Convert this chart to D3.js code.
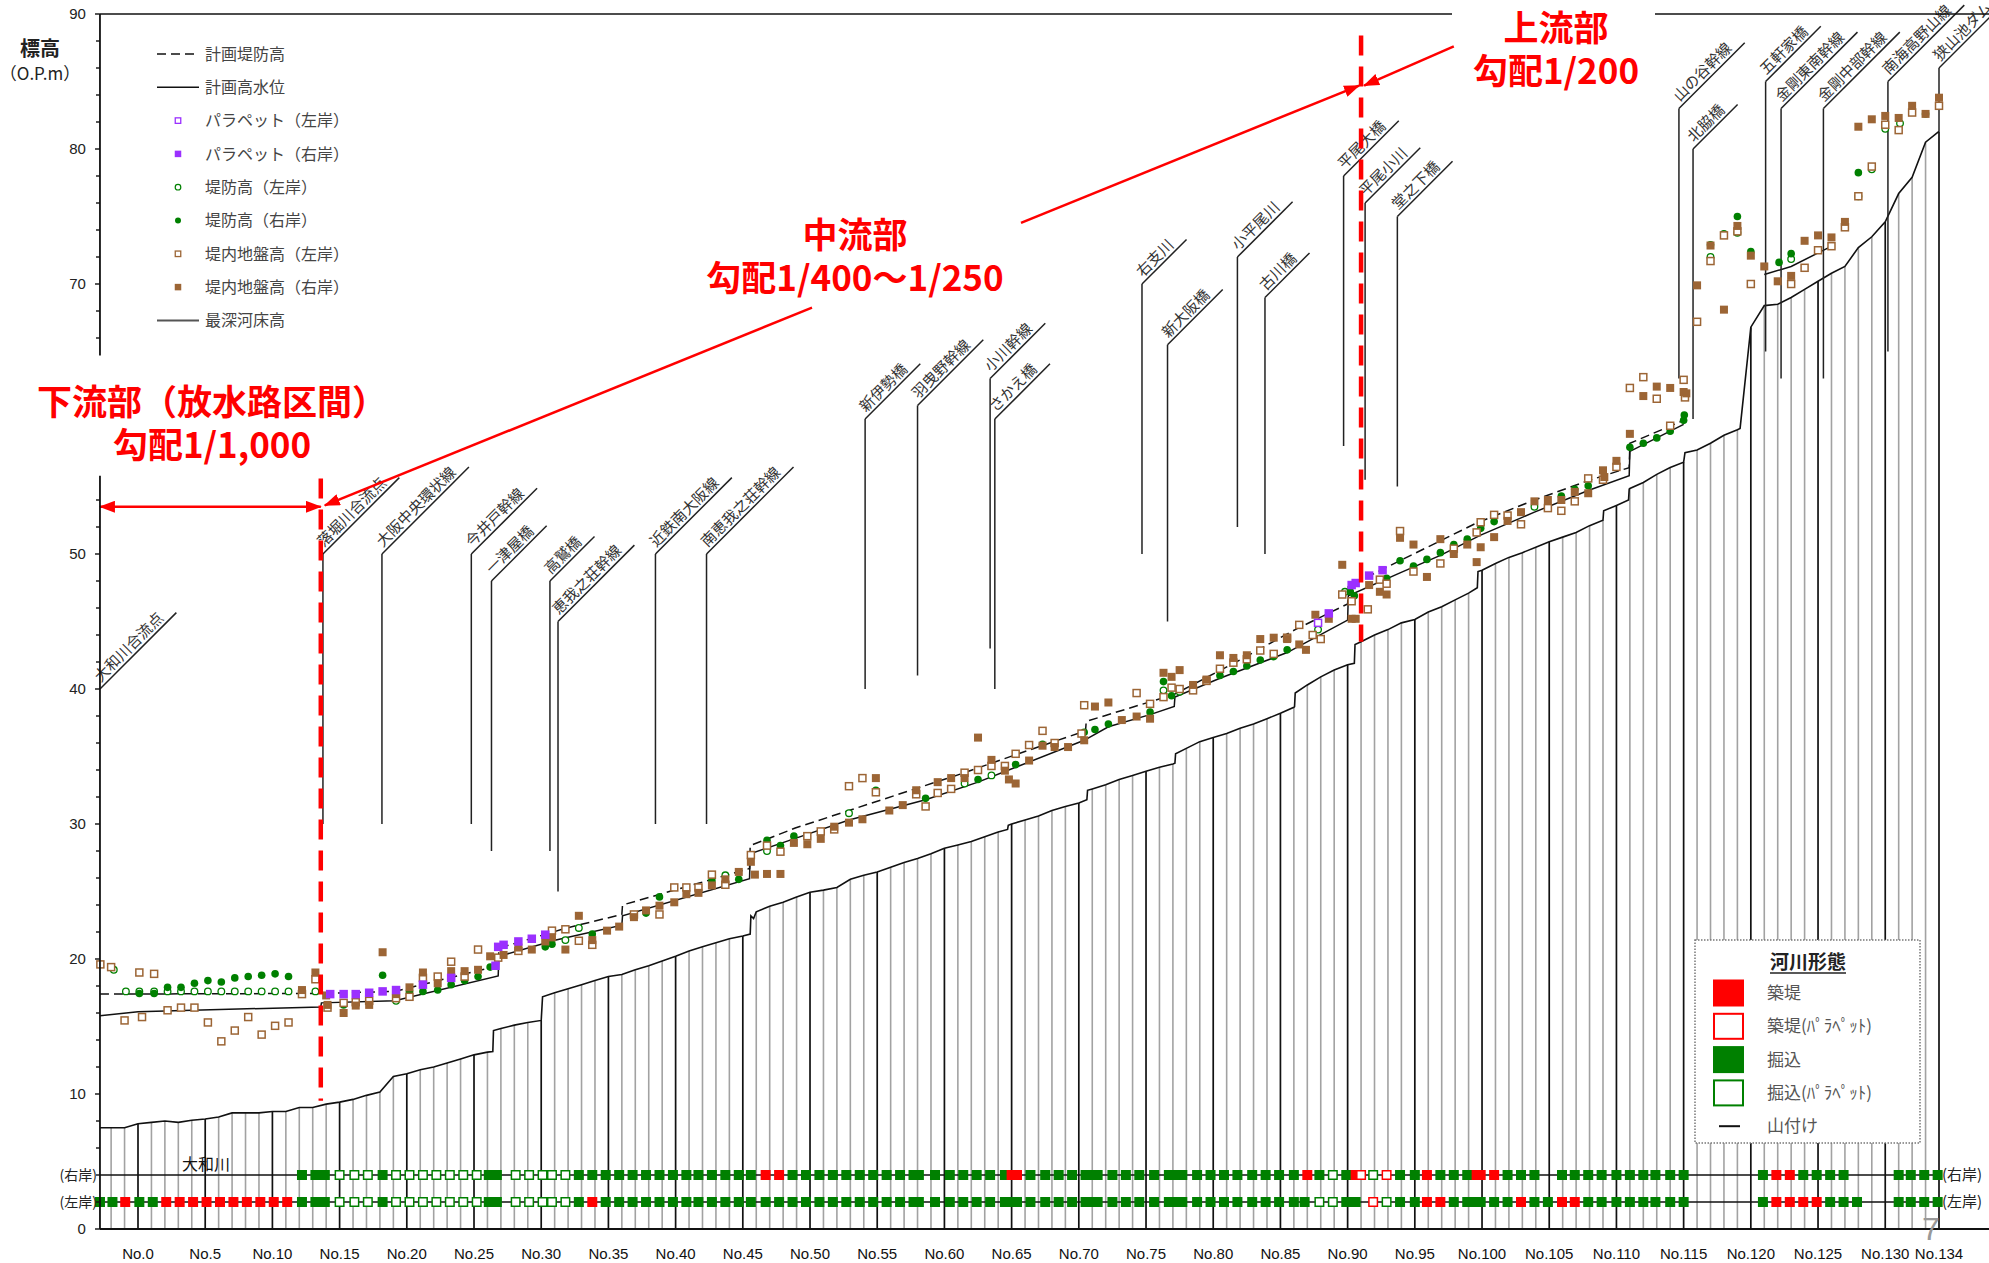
<!DOCTYPE html>
<html lang="ja">
<head>
<meta charset="utf-8">
<title>河川縦断図</title>
<script src="https://cdn.jsdelivr.net/npm/d3@7/dist/d3.min.js"></script>
<style>
  html, body { margin: 0; padding: 0; background: #fff; }
  svg { display: block; }
  text { font-family: "Noto Sans CJK JP", "Noto Sans", sans-serif; }
  text.num { font-family: "Liberation Sans", Arial, sans-serif; }
</style>
</head>
<body>
<svg id="chart" width="1989" height="1263"></svg>
<script>
// ---------------- data ----------------
// station numbers on the x axis (every 5 stations plus the last one)
const xTickStations = [0,5,10,15,20,25,30,35,40,45,50,55,60,65,70,75,80,85,90,95,100,105,110,115,120,125,130,134];
const yTickValues = [0,10,20,30,40,50,60,70,80,90];

// 最深河床高 [station, elevation O.P.m]
const riverbed = [[-2.83,7.5],[-2,7.5],[-1,7.5],[0,7.8],[1,7.9],[2,8.0],[3,7.9],[4,8.05],[5,8.15],[6,8.3],[7,8.6],[8,8.6],[9,8.6],[10,8.7],[11,8.7],[12,9.0],[13,9.0],[14,9.25],[15,9.4],[16,9.6],[17,9.9],[18,10.15],[19,11.3],[20,11.5],[21,11.8],[22,12.0],[23,12.3],[24,12.6],[25,12.9],[26,13.1],[26.4,13.15],[26.45,14.7],[27,14.85],[28,15.1],[29,15.3],[30,15.45],[30.1,17.2],[31,17.5],[32,17.8],[33,18.1],[34,18.4],[35,18.7],[36,18.85],[37,19.2],[38,19.5],[39,19.85],[40,20.2],[41,20.6],[42,20.9],[43,21.2],[44,21.5],[45,21.7],[45.55,21.85],[45.6,23.2],[45.8,23.0],[46,23.5],[47,23.9],[48,24.2],[49,24.6],[50,24.95],[51,25.1],[52,25.3],[53,25.9],[54,26.2],[55,26.45],[56,26.8],[57,27.15],[58,27.45],[59,27.8],[60,28.2],[61,28.45],[62,28.7],[63,29.05],[64,29.4],[64.7,29.6],[64.75,29.9],[65,30.0],[66,30.3],[67,30.6],[68,31.0],[69,31.3],[70,31.55],[70.6,31.8],[70.65,32.5],[71,32.6],[72,32.9],[73,33.3],[74,33.6],[75,33.9],[76,34.2],[77,34.45],[77.15,34.5],[77.2,35.2],[78,35.6],[79,36.1],[80,36.4],[81,36.7],[82,37.1],[83,37.4],[84,37.8],[85,38.2],[86,38.65],[86.05,38.7],[86.1,39.7],[87,40.3],[88,40.9],[89,41.4],[90,41.8],[90.5,41.9],[90.55,43.3],[91,43.5],[92,44.0],[93,44.4],[94,44.9],[95,45.15],[96,45.7],[97,46.1],[98,46.6],[99,47.1],[99.65,47.5],[99.7,48.7],[100,48.8],[101,49.3],[102,49.75],[103,50.1],[104,50.5],[105,50.9],[106,51.25],[107,51.6],[108,52.1],[109,52.5],[109.05,53.2],[110,53.6],[110.9,54.0],[110.95,54.8],[111,54.85],[112,55.3],[113,55.9],[114,56.4],[115,56.8],[115.1,57.5],[116,57.7],[117,58.2],[118,58.8],[119,59.2],[119.2,59.3],[120,66.8],[121,68.4],[122,68.5],[123,69.0],[124,69.6],[125,70.2],[126,70.8],[127,71.3],[128,72.7],[129,73.5],[130,74.6],[131,76.7],[132,77.9],[133,80.5],[134,81.3]];

// 計画堤防高
const planDike = [[-2.83,17.4],[13.6,17.45],[19.1,17.6],[26.8,19.5],[26.85,20.8],[31.9,22.3],[36.0,23.3],[36.05,24.0],[45.5,26.7],[45.55,28.4],[48.9,29.7],[52.9,31.0],[57.5,32.5],[61.5,33.8],[65.2,35.1],[70.5,36.9],[70.55,37.6],[77.1,39.6],[81.7,42.0],[86.1,44.4],[90.0,46.3],[90.05,47.6],[94.7,49.9],[99.6,52.3],[103.9,54.0],[107.8,55.4],[110.95,56.4],[111.0,58.2],[115.0,59.9]];

// 計画高水位
const planHWL = [[-2.83,15.8],[0,16.1],[13.6,16.45],[13.65,16.75],[19.1,16.9],[26.8,18.75],[26.85,20.2],[31.1,21.4],[36.0,22.5],[36.05,23.2],[45.5,25.95],[45.55,27.8],[48.8,28.9],[52.9,30.3],[58.6,31.8],[62.5,33.1],[65.3,34.2],[70.4,36.2],[72.2,37.2],[75.3,38.1],[77.1,38.7],[77.15,39.4],[80.5,40.8],[85.5,42.7],[90.0,45.1],[90.05,46.9],[93.9,48.6],[96.9,49.9],[99.9,51.4],[103.9,53.1],[107.9,54.7],[110.95,55.8],[111.0,57.6],[115.0,59.6]];
const planHWLUpper = [[121.0,70.7],[123.0,71.3],[125.0,72.3],[125.8,72.7]];

// パラペット
const parapetLeft = [[87.8,44.9]];
const parapetRight = [[14.3,17.4],[15.3,17.4],[16.2,17.4],[17.2,17.5],[18.2,17.6],[19.2,17.7],[21.2,18.1],[23.3,18.6],[26.6,19.5],[26.8,20.9],[27.2,21.05],[28.3,21.3],[29.3,21.5],[30.3,21.8],[88.6,45.6],[90.3,47.7],[90.6,47.85],[91.6,48.4],[92.6,48.8]];

// 堤防高
const dikeLeft = [[-1.8,19.2],[-0.9,17.6],[0.1,17.6],[1.2,17.6],[2.2,17.6],[3.2,17.6],[4.2,17.6],[5.2,17.6],[6.2,17.6],[7.2,17.6],[8.2,17.6],[9.2,17.6],[10.2,17.6],[11.2,17.6],[12.2,17.6],[13.2,17.6],[19.2,16.9],[31.8,21.4],[32.8,22.3],[43.7,26.2],[46.8,28.0],[52.9,30.8],[61.5,33.0],[63.5,33.6],[76.3,39.9],[77.5,39.8],[87.8,44.4],[89.8,47.2],[103.9,53.5],[117,72.0],[118,73.7],[119,73.8],[123,71.85],[128,76.5],[129,78.5],[130,81.5],[131.1,81.9]];
const dikeRight = [[0.1,17.45],[1.2,17.45],[2.2,17.9],[3.2,17.9],[4.2,18.2],[5.2,18.4],[6.2,18.3],[7.2,18.6],[8.2,18.7],[9.2,18.8],[10.2,18.9],[11.2,18.7],[15.3,16.6],[18.2,18.8],[20.2,17.6],[21.2,17.6],[22.3,17.7],[23.3,18.1],[24.3,18.4],[25.3,18.7],[26.2,19.4],[30.3,20.9],[30.8,21.1],[33.8,21.85],[37.8,23.4],[38.8,24.6],[42.7,25.8],[44.7,25.9],[46.8,28.8],[47.8,28.4],[48.8,29.1],[54.9,32.5],[58.6,31.9],[62.5,33.3],[65.3,34.4],[67.3,35.9],[70.4,36.8],[71.2,37.0],[72.2,37.4],[75.3,38.3],[76.3,40.55],[76.9,39.5],[80.5,41.0],[81.5,41.3],[82.5,41.7],[83.5,42.15],[84.5,42.4],[85.5,42.9],[90.2,47.2],[90.5,46.9],[92.9,48.2],[93.9,49.5],[94.9,49.1],[95.9,49.6],[96.9,50.1],[97.9,50.7],[98.9,51.1],[99.9,51.9],[100.9,52.4],[105.9,54.3],[106.9,54.8],[107.9,55.05],[111,57.9],[112,58.2],[113,58.6],[114,59.1],[115,59.9],[115.05,60.3],[117,72.9],[119,75.0],[120,72.4],[122.1,71.6],[123,72.25],[128,78.25],[133,82.6]];

// 堤内地盤高
const groundLeft = [[-2.8,19.6],[-2,19.4],[-1,15.45],[0.1,19.0],[0.3,15.7],[1.2,18.9],[2.2,16.2],[3.2,16.4],[4.2,16.4],[5.2,15.3],[6.2,13.9],[7.2,14.7],[8.2,15.7],[9.2,14.4],[10.2,15.05],[11.2,15.3],[12.2,17.4],[13.2,18.5],[14.1,16.4],[15.3,16.75],[16.2,16.8],[17.2,16.9],[19.2,17.1],[20.2,17.2],[21.2,18.6],[22.3,18.7],[23.3,19.8],[24.3,18.7],[25.3,20.7],[26.8,20.1],[28.3,20.6],[30.8,22.1],[31.8,22.2],[32.8,21.35],[33.8,21.05],[36.9,23.3],[38.8,23.3],[39.9,25.3],[40.8,25.3],[41.7,25.3],[42.7,26.25],[43.7,25.5],[45.6,27.7],[46.8,28.4],[47.8,27.95],[49.8,29.1],[50.8,29.45],[51.8,29.6],[52.9,32.8],[53.9,33.4],[54.9,32.35],[57.9,32.2],[58.6,31.3],[59.5,32.3],[60.5,32.6],[61.5,33.8],[62.5,34.0],[63.5,34.3],[64.5,34.3],[65.3,35.2],[66.3,35.85],[67.3,36.9],[68.2,36.0],[70.2,36.7],[70.4,38.8],[74.3,39.7],[75.3,38.9],[76.3,39.4],[76.9,40.1],[77.5,40.0],[78.5,39.9],[79.5,40.6],[80.5,41.5],[81.5,41.95],[82.5,42.2],[83.5,42.85],[84.5,42.6],[85.5,43.8],[86.4,44.75],[87.4,44.0],[88.0,43.7],[89.6,47.0],[90.3,46.5],[91.5,45.9],[92.4,48.1],[92.9,47.8],[93.9,51.7],[94.9,48.7],[96.9,49.3],[97.9,50.4],[99.6,51.6],[99.9,52.35],[100.9,52.9],[101.9,52.85],[102.9,52.2],[104.9,53.4],[105.9,53.2],[106.9,53.9],[107.9,55.6],[109,55.5],[110,56.45],[111,62.3],[112,63.1],[113,61.5],[114,59.5],[115,62.9],[115.1,61.6],[116,67.2],[117,71.7],[118,73.6],[119,73.9],[120,70.0],[123,70.0],[124,71.2],[125,72.5],[126,72.8],[127,74.2],[128,76.5],[129,78.7],[130,81.8],[131,81.4],[132,82.7],[134,83.2]];
const groundRight = [[12.2,17.7],[13.2,19.0],[14.0,17.3],[14.1,16.6],[15.3,16.0],[16.2,16.55],[17.2,16.6],[18.2,20.5],[19.2,17.4],[20.2,17.9],[21.2,19.0],[22.3,18.2],[23.3,19.1],[24.3,19.1],[25.3,19.2],[26.2,20.2],[27.2,20.3],[28.3,20.85],[29.3,20.7],[30.3,21.3],[30.8,21.6],[31.8,20.7],[32.8,23.2],[33.8,21.4],[34.9,22.1],[35.8,22.4],[36.9,23.1],[37.8,23.6],[38.8,23.95],[39.9,24.2],[40.8,24.8],[41.7,24.9],[42.7,25.45],[43.7,25.9],[44.7,26.45],[45.6,27.2],[45.9,26.25],[46.8,26.3],[47.8,26.3],[48.8,28.6],[49.8,28.5],[50.8,28.9],[51.8,29.8],[52.9,30.1],[53.9,30.35],[54.9,33.4],[55.9,31.0],[56.9,31.4],[57.9,32.5],[59.5,33.1],[60.5,33.4],[61.5,33.4],[62.5,36.4],[63.5,34.75],[64.5,33.95],[64.8,33.3],[65.3,33.0],[66.3,34.7],[67.3,35.8],[68.2,35.7],[69.2,35.7],[70.4,36.2],[71.2,38.7],[72.2,39.0],[73.2,37.7],[74.3,37.96],[75.3,37.8],[76.3,41.2],[76.9,40.9],[77.5,41.4],[78.5,40.3],[79.5,40.7],[80.5,42.5],[81.5,42.3],[82.5,42.5],[83.5,43.7],[84.5,43.8],[85.5,43.7],[86.4,43.3],[86.9,42.9],[87.6,45.5],[88.6,45.2],[89.6,49.2],[90.3,45.2],[90.6,45.2],[91.6,47.7],[92.4,47.2],[92.9,47.0],[93.9,51.2],[94.9,50.7],[95.9,48.3],[96.9,51.1],[97.9,50.0],[98.9,50.7],[99.6,49.4],[99.9,50.5],[100.9,51.25],[101.9,52.45],[102.9,53.1],[103.9,53.9],[104.9,54.0],[105.9,54.0],[106.9,54.6],[107.9,54.5],[109,56.2],[109.1,55.7],[110,56.9],[111,58.9],[112,61.7],[113,62.4],[114,62.3],[115,62.0],[115.2,61.9],[116,69.9],[117,72.85],[118,68.1],[119,74.3],[120,72.1],[121,71.3],[122,70.2],[123,70.6],[124,73.2],[125,73.6],[126,73.45],[127,74.6],[128,81.65],[129,82.2],[130,82.45],[131,82.3],[132,83.2],[133,82.6],[134,83.8]];

// 河川形態  F:築堤  FP:築堤(パラペット)  E:掘込  EP:掘込(パラペット)
const bankRight = [[12.2,"E"],[13.2,"E"],[13.55,"E"],[13.9,"E"],[15.0,"EP"],[16.1,"EP"],[17.1,"EP"],[18.2,"E"],[19.2,"EP"],[20.2,"EP"],[21.2,"EP"],[22.2,"EP"],[23.2,"EP"],[24.2,"EP"],[25.2,"EP"],[26.1,"E"],[26.7,"E"],[28.1,"EP"],[29.1,"EP"],[30.1,"EP"],[30.8,"EP"],[31.8,"EP"],[32.8,"E"],[33.8,"E"],[34.8,"E"],[35.8,"E"],[36.8,"E"],[37.8,"E"],[38.8,"E"],[39.8,"E"],[40.8,"E"],[41.7,"E"],[42.7,"E"],[43.7,"E"],[44.7,"E"],[45.6,"E"],[46.7,"F"],[47.7,"F"],[48.7,"E"],[49.7,"E"],[50.7,"E"],[51.7,"E"],[52.7,"E"],[53.7,"E"],[54.7,"E"],[55.7,"E"],[56.7,"E"],[57.7,"E"],[58.1,"E"],[59.3,"E"],[60.4,"E"],[61.4,"E"],[62.4,"E"],[63.4,"E"],[64.5,"E"],[65.0,"F"],[65.4,"F"],[66.4,"E"],[67.5,"E"],[68.5,"E"],[69.5,"E"],[70.5,"E"],[70.9,"E"],[71.4,"E"],[72.5,"E"],[73.5,"E"],[74.5,"E"],[75.6,"E"],[76.7,"E"],[77.2,"E"],[77.7,"E"],[78.8,"E"],[79.8,"E"],[80.8,"E"],[81.8,"E"],[82.9,"E"],[83.9,"E"],[84.9,"E"],[86.0,"E"],[87.0,"F"],[87.9,"E"],[88.9,"EP"],[89.9,"E"],[90.6,"F"],[91.0,"FP"],[91.9,"EP"],[92.9,"FP"],[93.9,"E"],[95.0,"E"],[95.9,"F"],[96.9,"E"],[97.9,"E"],[98.9,"E"],[99.6,"F"],[99.9,"F"],[100.9,"F"],[101.9,"E"],[102.9,"E"],[103.9,"E"],[105.95,"E"],[106.9,"E"],[107.9,"E"],[108.9,"E"],[110.0,"E"],[111.0,"E"],[112.0,"E"],[112.9,"E"],[114.0,"E"],[115.0,"E"],[120.9,"E"],[121.9,"F"],[122.9,"F"],[123.9,"E"],[124.9,"E"],[125.9,"E"],[126.9,"E"],[131.0,"E"],[131.9,"E"],[132.9,"E"],[133.9,"E"]];
const bankLeft = [[-2.83,"E"],[-1.9,"E"],[-0.95,"F"],[0.1,"E"],[1.1,"E"],[2.1,"F"],[3.1,"F"],[4.1,"F"],[5.1,"F"],[6.1,"F"],[7.1,"F"],[8.1,"F"],[9.1,"F"],[10.1,"F"],[11.1,"F"],[12.2,"E"],[13.2,"E"],[13.55,"E"],[13.9,"E"],[15.0,"EP"],[16.1,"EP"],[17.1,"EP"],[18.2,"E"],[19.2,"EP"],[20.2,"EP"],[21.2,"EP"],[22.2,"EP"],[23.2,"EP"],[24.2,"EP"],[25.2,"EP"],[26.1,"E"],[26.7,"E"],[28.1,"EP"],[29.1,"EP"],[30.1,"EP"],[30.8,"EP"],[31.8,"EP"],[32.8,"E"],[33.8,"F"],[34.8,"E"],[35.8,"E"],[36.8,"E"],[37.8,"E"],[38.8,"E"],[39.8,"E"],[40.8,"E"],[41.7,"E"],[42.7,"E"],[43.7,"E"],[44.7,"E"],[45.6,"E"],[46.7,"E"],[47.7,"E"],[48.7,"E"],[49.7,"E"],[50.7,"E"],[51.7,"E"],[52.7,"E"],[53.7,"E"],[54.7,"E"],[55.7,"E"],[56.7,"E"],[57.7,"E"],[58.1,"E"],[59.3,"E"],[60.4,"E"],[61.4,"E"],[62.4,"E"],[63.4,"E"],[64.5,"E"],[65.0,"E"],[65.4,"E"],[66.4,"E"],[67.5,"E"],[68.5,"E"],[69.5,"E"],[70.5,"E"],[70.9,"E"],[71.4,"E"],[72.5,"E"],[73.5,"E"],[74.5,"E"],[75.6,"E"],[76.7,"E"],[77.2,"E"],[77.7,"E"],[78.8,"E"],[79.8,"E"],[80.8,"E"],[81.8,"E"],[82.9,"E"],[83.9,"E"],[84.9,"E"],[86.0,"E"],[86.8,"E"],[87.9,"EP"],[88.9,"EP"],[89.9,"E"],[90.6,"E"],[91.9,"FP"],[92.9,"EP"],[93.9,"E"],[95.0,"E"],[95.9,"F"],[96.9,"F"],[97.9,"E"],[98.9,"E"],[99.6,"E"],[99.9,"E"],[100.9,"E"],[101.9,"E"],[102.9,"F"],[103.9,"E"],[104.9,"E"],[105.95,"F"],[106.9,"F"],[107.9,"E"],[108.9,"E"],[110.0,"E"],[111.0,"E"],[112.0,"E"],[112.9,"E"],[114.0,"E"],[115.0,"E"],[120.9,"E"],[121.9,"F"],[122.9,"F"],[123.9,"F"],[124.9,"F"],[125.9,"E"],[126.9,"E"],[127.9,"E"],[131.0,"E"],[131.9,"E"],[132.9,"E"],[133.9,"E"]];

// 横断構造物・合流点  (station, elevation of the label leader top / bottom)
const landmarks = [
  {name:"大和川合流点", st:-2.83, top:40, bottom:40},
  {name:"落堀川合流点", st:13.76, top:50, bottom:30},
  {name:"大阪中央環状線", st:18.15, top:50, bottom:30},
  {name:"今井戸幹線", st:24.8, top:50, bottom:30},
  {name:"一津屋橋", st:26.3, top:48, bottom:28},
  {name:"高鷲橋", st:30.65, top:48, bottom:28},
  {name:"恵我之荘幹線", st:31.25, top:45, bottom:25},
  {name:"近鉄南大阪線", st:38.5, top:50, bottom:30},
  {name:"南恵我之荘幹線", st:42.3, top:50, bottom:30},
  {name:"新伊勢橋", st:54.1, top:60, bottom:40},
  {name:"羽曳野幹線", st:58.0, top:61, bottom:41},
  {name:"小川幹線", st:63.4, top:63, bottom:43},
  {name:"さかえ橋", st:63.75, top:60, bottom:40},
  {name:"右支川", st:74.7, top:70, bottom:50},
  {name:"新大阪橋", st:76.6, top:65.5, bottom:45},
  {name:"小平尾川", st:81.8, top:72, bottom:52},
  {name:"古川橋", st:83.85, top:69, bottom:50},
  {name:"平尾大橋", st:89.7, top:78, bottom:58},
  {name:"平尾小川", st:91.3, top:76, bottom:55.5},
  {name:"堂之下橋", st:93.7, top:75, bottom:55},
  {name:"山の谷幹線", st:114.65, top:83, bottom:63},
  {name:"北脇橋", st:115.7, top:80, bottom:60},
  {name:"五軒家橋", st:121.1, top:85, bottom:65},
  {name:"金剛東南幹線", st:122.25, top:83, bottom:63},
  {name:"金剛中部幹線", st:125.4, top:83, bottom:63},
  {name:"南海高野山線", st:130.2, top:85, bottom:65},
  {name:"狭山池ダム", st:134.0, top:86, bottom:81.3}
];

// reach boundaries (station) used for the gradient annotations
const reachBoundaries = [13.6, 91.0];

// ---------------- drawing ----------------
const svg = d3.select("#chart");
const x = d3.scaleLinear().domain([0, 134]).range([138, 1939]);
const y = d3.scaleLinear().domain([0, 90]).range([1229, 14]);
const xFirst = -2.83;
const left = x(xFirst);
const right = x(134);
const col = { brown: "#9C6535", green: "#008000", purple: "#9B30FF", red: "#FF0000", grid: "#a2a2a2", ink: "#111" };

const defs = svg.append("defs");
defs.append("marker").attr("id", "arrowHead")
  .attr("viewBox", "0 0 16 12").attr("refX", 15).attr("refY", 6)
  .attr("markerWidth", 16).attr("markerHeight", 12)
  .attr("markerUnits", "userSpaceOnUse").attr("orient", "auto-start-reverse")
  .append("path").attr("d", "M0,0L16,6L0,12Z").attr("fill", col.red);

// station verticals below the river bed
const gSt = svg.append("g");
riverbed.filter(d => Number.isInteger(d[0])).forEach(d => {
  const major = d[0] % 5 === 0 || d[0] === 134;
  gSt.append("line")
    .attr("x1", x(d[0])).attr("x2", x(d[0]))
    .attr("y1", y(d[1])).attr("y2", y(0))
    .attr("stroke", major ? col.ink : col.grid)
    .attr("stroke-width", major ? 1.7 : 1.6);
});

// river form rows (right bank on the 4 m line, left bank on the 2 m line)
const gBank = svg.append("g");
[[4, bankRight], [2, bankLeft]].forEach(([lev, rows]) => {
  const yy = y(lev);
  gBank.append("line").attr("x1", left).attr("x2", right).attr("y1", yy).attr("y2", yy)
    .attr("stroke", col.ink).attr("stroke-width", 1.6);
  rows.forEach(([s, code]) => {
    const c = code[0] === "F" ? col.red : col.green;
    const open = code.length > 1;
    const sz = open ? 8.5 : 10;
    gBank.append("rect")
      .attr("x", x(s) - sz / 2).attr("y", yy - sz / 2)
      .attr("width", sz).attr("height", sz)
      .attr("fill", open ? "#fff" : c)
      .attr("stroke", open ? c : "none")
      .attr("stroke-width", open ? 1.5 : 0);
  });
});

// profile lines
const line = d3.line().x(d => x(d[0])).y(d => y(d[1]));
svg.append("path").attr("d", line(riverbed)).attr("fill", "none").attr("stroke", col.ink).attr("stroke-width", 1.6);
svg.append("path").attr("d", line(planHWL)).attr("fill", "none").attr("stroke", col.ink).attr("stroke-width", 1.5);
svg.append("path").attr("d", line(planHWLUpper)).attr("fill", "none").attr("stroke", col.ink).attr("stroke-width", 1.5);
svg.append("path").attr("d", line(planDike)).attr("fill", "none").attr("stroke", col.ink).attr("stroke-width", 1.5).attr("stroke-dasharray", "9,5");

// landmark leaders and labels
const gLm = svg.append("g");
landmarks.forEach(d => {
  const x0 = x(d.st), yt = y(d.top), yb = y(d.bottom);
  if (d.bottom < d.top) {
    gLm.append("line").attr("x1", x0).attr("x2", x0).attr("y1", yt).attr("y2", yb)
      .attr("stroke", "#222").attr("stroke-width", 1.5);
  }
  const t = gLm.append("text")
    .attr("transform", `translate(${x0},${yt}) rotate(-45)`)
    .attr("x", 5).attr("y", -4)
    .attr("font-size", 15).attr("fill", "#333")
    .text(d.name);
  const len = t.node().getComputedTextLength() + 18;
  gLm.append("line").attr("x1", x0).attr("y1", yt)
    .attr("x2", x0 + len / Math.SQRT2).attr("y2", yt - len / Math.SQRT2)
    .attr("stroke", "#222").attr("stroke-width", 1.5);
});

// measured points
const gPts = svg.append("g");
function squares(data, size, filled, color) {
  gPts.append("g").selectAll("rect").data(data).join("rect")
    .attr("x", d => x(d[0]) - size / 2).attr("y", d => y(d[1]) - size / 2)
    .attr("width", size).attr("height", size)
    .attr("fill", filled ? color : "#fff")
    .attr("stroke", filled ? "none" : color)
    .attr("stroke-width", filled ? 0 : 1.5);
}
function circles(data, r, filled, color) {
  gPts.append("g").selectAll("circle").data(data).join("circle")
    .attr("cx", d => x(d[0])).attr("cy", d => y(d[1])).attr("r", r)
    .attr("fill", filled ? color : "#fff")
    .attr("stroke", filled ? "none" : color)
    .attr("stroke-width", filled ? 0 : 1.3);
}
circles(dikeLeft, 3.3, false, col.green);
circles(dikeRight, 3.8, true, col.green);
squares(groundLeft, 7, false, col.brown);
squares(groundRight, 8, true, col.brown);
squares(parapetLeft, 7, false, col.purple);
squares(parapetRight, 8.5, true, col.purple);

// reach boundaries and gradient annotations
const gAnn = svg.append("g");
gAnn.append("line").attr("x1", x(reachBoundaries[0])).attr("x2", x(reachBoundaries[0]))
  .attr("y1", y(55.6)).attr("y2", y(9.5))
  .attr("stroke", col.red).attr("stroke-width", 4.5).attr("stroke-dasharray", "20,11");
gAnn.append("line").attr("x1", x(reachBoundaries[1])).attr("x2", x(reachBoundaries[1]))
  .attr("y1", y(88.4)).attr("y2", y(43.5))
  .attr("stroke", col.red).attr("stroke-width", 4.5).attr("stroke-dasharray", "20,11");

function arrow(x1, y1, x2, y2, startHead, endHead) {
  const l = gAnn.append("line").attr("x1", x1).attr("y1", y1).attr("x2", x2).attr("y2", y2)
    .attr("stroke", col.red).attr("stroke-width", 2.5);
  if (startHead) l.attr("marker-start", "url(#arrowHead)");
  if (endHead) l.attr("marker-end", "url(#arrowHead)");
}
// lower reach
arrow(left, y(53.5), x(reachBoundaries[0]), y(53.5), true, true);
// middle reach, interrupted by its caption
{
  const p1 = [x(reachBoundaries[0]) + 4, y(53.6)], p2 = [x(reachBoundaries[1]) - 2, y(84.7)];
  const at = xx => [xx, p1[1] + (p2[1] - p1[1]) * (xx - p1[0]) / (p2[0] - p1[0])];
  const a = at(812), b = at(1021);
  arrow(p1[0], p1[1], a[0], a[1], true, false);
  arrow(b[0], b[1], p2[0], p2[1], false, true);
}
// upper reach
arrow(x(97.9), y(87.6), x(reachBoundaries[1]) + 3, y(84.7), false, true);

// two-line red captions, each kept in a single text element
function redCaption(tx, ty, lines) {
  const t = gAnn.append("text").attr("x", tx).attr("y", ty).attr("text-anchor", "middle")
    .attr("font-size", 35).attr("font-weight", "bold").attr("fill", col.red);
  lines.forEach((s, i) => {
    t.append("tspan").attr("x", tx).attr("dy", i === 0 ? 0 : 43).text(s);
  });
}
redCaption(212, 415, ["下流部（放水路区間）", "勾配1/1,000"]);
redCaption(855, 248, ["中流部", "勾配1/400〜1/250"]);
redCaption(1556, 41, ["上流部", "勾配1/200"]);

// frame and axes
const gAx = svg.append("g");
gAx.append("line").attr("x1", left).attr("x2", 1452).attr("y1", y(90)).attr("y2", y(90)).attr("stroke", col.ink).attr("stroke-width", 1.6);
gAx.append("line").attr("x1", 1655).attr("x2", 1989).attr("y1", y(90)).attr("y2", y(90)).attr("stroke", col.ink).attr("stroke-width", 1.6);
gAx.append("line").attr("x1", left).attr("x2", 1989).attr("y1", y(0)).attr("y2", y(0)).attr("stroke", col.ink).attr("stroke-width", 2);
const axisSegments = [[64.7, 90], [0, 55.8]];
axisSegments.forEach(([lo, hi]) => {
  gAx.append("line").attr("x1", left).attr("x2", left).attr("y1", y(lo)).attr("y2", y(hi)).attr("stroke", col.ink).attr("stroke-width", 1.8);
});
const visible = v => axisSegments.some(([lo, hi]) => v >= lo && v <= hi);
d3.range(0, 91, 2).filter(visible).forEach(v => {
  const major = v % 10 === 0;
  gAx.append("line").attr("x1", left - (major ? 5 : 4)).attr("x2", left).attr("y1", y(v)).attr("y2", y(v))
    .attr("stroke", col.ink).attr("stroke-width", 1.4);
});
yTickValues.filter(visible).forEach(v => {
  gAx.append("text").attr("class", "num").attr("x", left - 14).attr("y", y(v)).attr("dy", "0.36em")
    .attr("text-anchor", "end").attr("font-size", 15).attr("fill", "#222").text(v);
});
gAx.append("text").attr("x", 40).attr("y", 56).attr("text-anchor", "middle").attr("font-size", 20).attr("font-weight", "bold").attr("fill", "#222").text("標高");
gAx.append("text").attr("x", 40).attr("y", 80).attr("text-anchor", "middle").attr("font-size", 17).attr("fill", "#222").text("（O.P.m）");

xTickStations.forEach(s => {
  gAx.append("text").attr("class", "num").attr("x", x(s)).attr("y", 1259).attr("text-anchor", "middle")
    .attr("font-size", 15).attr("fill", "#111").text("No." + s);
});

// bank row captions
[["(右岸)", 4], ["(左岸)", 2]].forEach(([lab, lev]) => {
  gAx.append("text").attr("x", left - 3).attr("y", y(lev)).attr("dy", "0.36em").attr("text-anchor", "end")
    .attr("font-size", 14).attr("fill", "#222").text(lab);
  gAx.append("text").attr("x", right + 3).attr("y", y(lev)).attr("dy", "0.36em").attr("text-anchor", "start")
    .attr("font-size", 15).attr("fill", "#222").text(lab);
});
gAx.append("text").attr("x", 206).attr("y", 1170).attr("text-anchor", "middle").attr("font-size", 16).attr("fill", "#111").text("大和川");

// series legend
const gLeg = svg.append("g");
const legRows = [
  {label:"計画堤防高", kind:"dash"},
  {label:"計画高水位", kind:"line"},
  {label:"パラペット（左岸）", kind:"sq", fill:false, color:col.purple},
  {label:"パラペット（右岸）", kind:"sq", fill:true, color:col.purple},
  {label:"堤防高（左岸）", kind:"ci", fill:false, color:col.green},
  {label:"堤防高（右岸）", kind:"ci", fill:true, color:col.green},
  {label:"堤内地盤高（左岸）", kind:"sq", fill:false, color:col.brown},
  {label:"堤内地盤高（右岸）", kind:"sq", fill:true, color:col.brown},
  {label:"最深河床高", kind:"bed"}
];
legRows.forEach((r, i) => {
  const ly = 54 + i * 33.3;
  if (r.kind === "dash" || r.kind === "line" || r.kind === "bed") {
    gLeg.append("line").attr("x1", 157).attr("x2", 199).attr("y1", ly).attr("y2", ly)
      .attr("stroke", r.kind === "bed" ? "#555" : col.ink)
      .attr("stroke-width", r.kind === "bed" ? 2 : 1.5)
      .attr("stroke-dasharray", r.kind === "dash" ? "9,5" : null);
  } else if (r.kind === "sq") {
    const sz = r.fill ? 6.5 : 5.5;
    gLeg.append("rect").attr("x", 178 - sz / 2).attr("y", ly - sz / 2).attr("width", sz).attr("height", sz)
      .attr("fill", r.fill ? r.color : "#fff").attr("stroke", r.fill ? "none" : r.color).attr("stroke-width", 1.3);
  } else {
    gLeg.append("circle").attr("cx", 178).attr("cy", ly).attr("r", r.fill ? 3 : 2.8)
      .attr("fill", r.fill ? r.color : "#fff").attr("stroke", r.fill ? "none" : r.color).attr("stroke-width", 1.2);
  }
  gLeg.append("text").attr("x", 205).attr("y", ly).attr("dy", "0.36em").attr("font-size", 16).attr("fill", "#444").text(r.label);
});

// river form legend
const gBox = svg.append("g");
gBox.append("rect").attr("x", 1695).attr("y", 940).attr("width", 225).attr("height", 203)
  .attr("fill", "#fff").attr("stroke", "#777").attr("stroke-width", 1.5).attr("stroke-dasharray", "1.5,1.5");
const title = gBox.append("text").attr("x", 1808).attr("y", 969).attr("text-anchor", "middle")
  .attr("font-size", 19).attr("font-weight", "bold").attr("fill", "#222").text("河川形態");
const tw = title.node().getComputedTextLength();
gBox.append("line").attr("x1", 1808 - tw / 2).attr("x2", 1808 + tw / 2).attr("y1", 973).attr("y2", 973)
  .attr("stroke", "#222").attr("stroke-width", 1.6);
const boxRows = [
  {label:"築堤", color:col.red, fill:true},
  {label:"築堤(ﾊﾟﾗﾍﾟｯﾄ)", color:col.red, fill:false},
  {label:"掘込", color:col.green, fill:true},
  {label:"掘込(ﾊﾟﾗﾍﾟｯﾄ)", color:col.green, fill:false},
  {label:"山付け", color:col.ink, line:true}
];
boxRows.forEach((r, i) => {
  const cy = 993 + i * 33.3;
  if (r.line) {
    gBox.append("line").attr("x1", 1719).attr("x2", 1740).attr("y1", cy).attr("y2", cy).attr("stroke", col.ink).attr("stroke-width", 2);
  } else if (r.fill) {
    gBox.append("rect").attr("x", 1713).attr("y", cy - 13.5).attr("width", 31).attr("height", 27).attr("fill", r.color);
  } else {
    gBox.append("rect").attr("x", 1714).attr("y", cy - 12.5).attr("width", 29).attr("height", 25)
      .attr("fill", "#fff").attr("stroke", r.color).attr("stroke-width", 2);
  }
  gBox.append("text").attr("x", 1767).attr("y", cy).attr("dy", "0.36em").attr("font-size", 17).attr("fill", "#555").text(r.label);
});

// page number
svg.append("text").attr("class", "num").attr("x", 1931).attr("y", 1240).attr("text-anchor", "middle")
  .attr("font-size", 32).attr("fill", "#999").text("7");
</script>
</body>
</html>
